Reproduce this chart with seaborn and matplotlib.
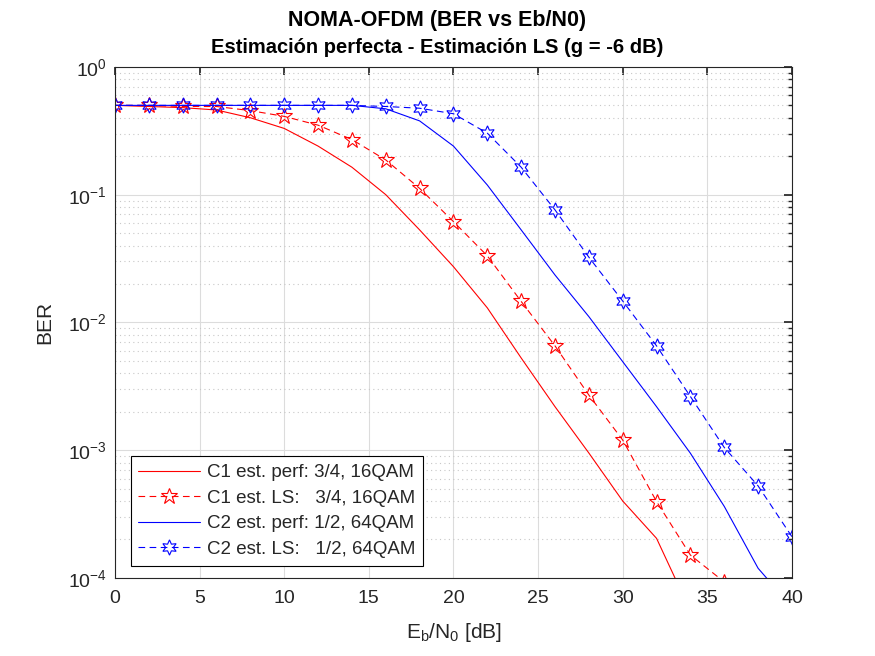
import numpy as np
import pandas as pd
import matplotlib
matplotlib.use('Agg')
import matplotlib.pyplot as plt
import seaborn as sns

sns.set_theme(style="white")
plt.rcParams['font.family'] = ['Liberation Sans', 'DejaVu Sans']
plt.rcParams['mathtext.default'] = 'regular'

# === DATOS ===
ebn0 = np.arange(0, 42, 2)

# C1: 3/4, 16QAM
c1_perf = [0.50, 0.49, 0.48, 0.46, 0.40, 0.33, 0.24, 0.164, 0.100, 0.053, 0.0273,
           0.0130, 0.00527, 0.00219, 0.00095, 0.00040, 0.000204, 5.5e-5]
c1_ls = [0.50, 0.50, 0.49, 0.49, 0.455, 0.41, 0.35, 0.27, 0.187, 0.112, 0.0615,
         0.0332, 0.0146, 0.00655, 0.0027, 0.0012, 0.000396, 0.000151, 9.3e-5]

# C2: 1/2, 64QAM
c2_perf = [0.50, 0.50, 0.50, 0.50, 0.50, 0.50, 0.50, 0.50, 0.47, 0.378, 0.24,
           0.119, 0.053, 0.0235, 0.0111, 0.00493, 0.00219, 0.000946, 0.000363,
           0.000119, 5.9e-5]
c2_ls = [0.50, 0.50, 0.50, 0.50, 0.50, 0.50, 0.50, 0.50, 0.49, 0.475, 0.43,
         0.303, 0.164, 0.076, 0.0324, 0.0147, 0.00655, 0.00263, 0.00105,
         0.000525, 0.00021]

labels = ['C1 est. perf: 3/4, 16QAM',
          'C1 est. LS:   3/4, 16QAM',
          'C2 est. perf: 1/2, 64QAM',
          'C2 est. LS:   1/2, 64QAM']

# === FIGURA ===
fig = plt.figure(figsize=(8.75, 6.56), dpi=100)
ax = fig.add_axes([0.1314, 0.119, 0.7737, 0.779])

lw = 0.8
sns.lineplot(x=ebn0[:len(c1_perf)], y=c1_perf, ax=ax, color='red', linewidth=lw,
             linestyle='-', label=labels[0])
sns.lineplot(x=ebn0[:len(c1_ls)], y=c1_ls, ax=ax, color='red', linewidth=lw,
             linestyle=(0, (6, 4)), marker='*', markersize=12,
             markerfacecolor='none', markeredgecolor='red', markeredgewidth=0.8,
             label=labels[1])
sns.lineplot(x=ebn0[:len(c2_perf)], y=c2_perf, ax=ax, color='blue', linewidth=lw,
             linestyle='-', label=labels[2])
sns.lineplot(x=ebn0[:len(c2_ls)], y=c2_ls, ax=ax, color='blue', linewidth=lw,
             linestyle=(0, (6, 4)), marker=(6, 1, 0), markersize=11,
             markerfacecolor='none', markeredgecolor='blue', markeredgewidth=0.8,
             label=labels[3])

ax.set_yscale('log')
ax.set_xlim(0, 40)
ax.set_ylim(1e-4, 1)
ax.set_xticks(np.arange(0, 45, 5))

# estilo MATLAB: caja, ticks hacia dentro, rejilla
for s in ax.spines.values():
    s.set_color('#262626')
    s.set_linewidth(0.8)
ax.tick_params(which='both', direction='in', top=True, right=True,
               labelsize=14, colors='#262626', labelcolor='#262626')
ax.tick_params(which='major', length=6)
ax.tick_params(which='minor', length=3)
ax.tick_params(axis='x', which='major', pad=9)
ax.tick_params(axis='y', which='major', pad=6)
ax.grid(which='major', color='#dcdcdc', linestyle='-', linewidth=0.8)
ax.grid(which='minor', axis='y', color='#c8c8c8', linestyle=(0, (1, 3)), linewidth=0.8)
ax.set_axisbelow(True)

ax.set_xlabel(r'$E_b/N_0$ [dB]', fontsize=15, color='#262626', labelpad=10)
ax.set_ylabel('BER', fontsize=15, color='#262626', labelpad=10)

fig.text(0.5, 0.969, 'NOMA-OFDM (BER vs Eb/N0)', ha='center', va='center',
         fontsize=15.5, fontweight='bold', color='black')
fig.text(0.5, 0.927, 'Estimación perfecta - Estimación LS (g = -6 dB)', ha='center',
         va='center', fontsize=14.5, fontweight='bold', color='black')

leg = ax.legend(loc='lower left', bbox_to_anchor=(0.023, 0.0235), fontsize=13.5,
                frameon=True, fancybox=False, framealpha=1, edgecolor='black',
                borderpad=0.42, labelspacing=0.45, handlelength=3.3, handletextpad=0.35,
                borderaxespad=0.0)
leg.get_frame().set_linewidth(0.8)

fig.savefig('out.png', dpi=100)
